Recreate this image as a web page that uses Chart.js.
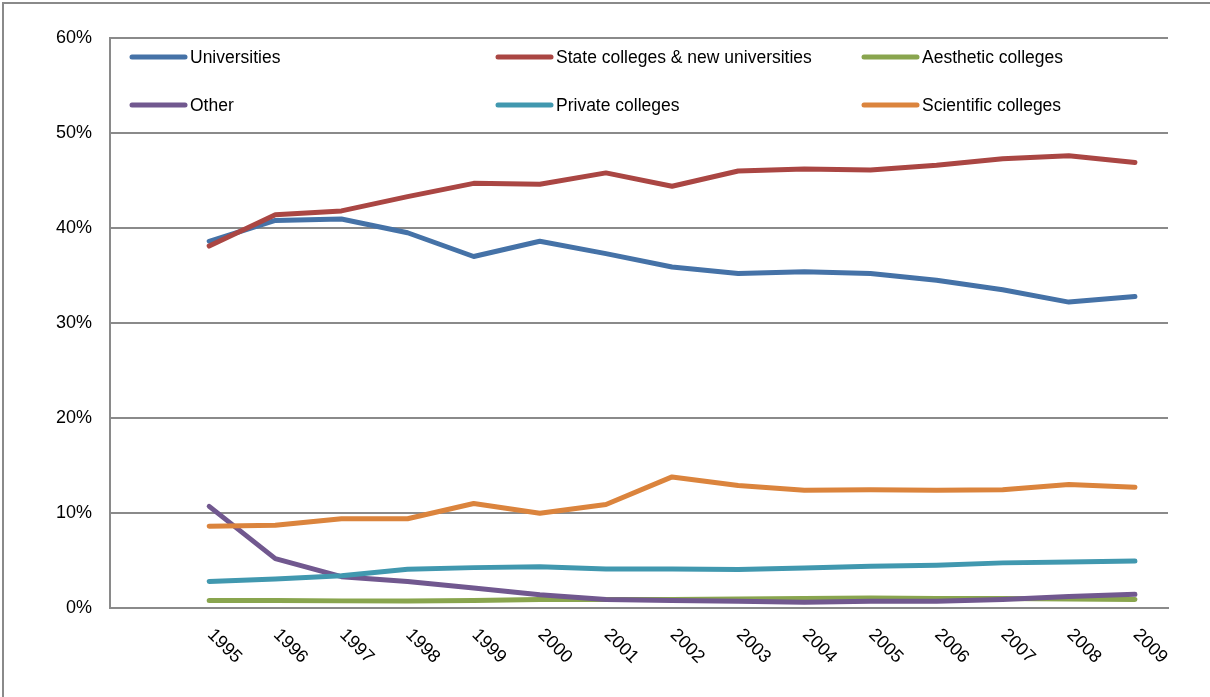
<!DOCTYPE html>
<html>
<head>
<meta charset="utf-8">
<script src="https://cdn.jsdelivr.net/npm/chart.js@4.4.1/dist/chart.umd.min.js"></script>
<style>
    html, body { margin: 0; padding: 0; background: #fff; }
    #wrap { position: relative; width: 1210px; height: 697px; }
</style>
</head>
<body>
<div id="wrap"><canvas id="chart"></canvas></div>
<script>
// Years on the x axis
const years = ['1995', '1996', '1997', '1998', '1999', '2000', '2001', '2002',
    '2003', '2004', '2005', '2006', '2007', '2008', '2009'];

// Shares in percent
const universities = [38.6, 40.8, 40.95, 39.5, 37.0, 38.6, 37.3, 35.9, 35.2, 35.4, 35.2, 34.5, 33.5, 32.2, 32.8];
const stateColleges = [38.1, 41.4, 41.8, 43.3, 44.7, 44.6, 45.8, 44.4, 46.0, 46.2, 46.1, 46.6, 47.3, 47.6, 46.9];
const aestheticColleges = [0.8, 0.8, 0.75, 0.75, 0.8, 0.9, 0.9, 0.9, 0.95, 1.0, 1.05, 1.0, 1.0, 0.95, 0.9];
const other = [10.7, 5.2, 3.3, 2.8, 2.1, 1.4, 0.9, 0.8, 0.7, 0.6, 0.7, 0.7, 0.9, 1.2, 1.45];
const privateColleges = [2.8, 3.05, 3.4, 4.07, 4.25, 4.35, 4.1, 4.1, 4.05, 4.2, 4.4, 4.5, 4.75, 4.85, 4.95];
const scientificColleges = [8.6, 8.7, 9.4, 9.4, 11.0, 9.97, 10.9, 13.8, 12.9, 12.4, 12.45, 12.4, 12.45, 13.0, 12.7];

// Y axis ticks
const yTicks = [0, 10, 20, 30, 40, 50, 60];

const seriesNames = ['Universities', 'State colleges & new universities', 'Aesthetic colleges',
    'Other', 'Private colleges', 'Scientific colleges'];
const seriesData = [universities, stateColleges, aestheticColleges, other, privateColleges, scientificColleges];
const seriesColors = ['#4572A7', '#AA4643', '#89A54E', '#71588F', '#4198AF', '#DB843D'];

const FONT = '"Liberation Sans", Arial, sans-serif';
const GRID = '#8a8a8a';

// an empty first slot leaves the blank gap left of 1995
const labels = [''].concat(years);

const datasets = seriesData.map((values, i) => ({
    label: seriesNames[i],
    data: [null].concat(values),
    borderColor: seriesColors[i],
    backgroundColor: seriesColors[i],
    borderWidth: 5,
    borderCapStyle: 'round',
    borderJoinStyle: 'round',
    pointRadius: 0,
    tension: 0,
    order: seriesData.length - i // later series on top
}));

// Outer frame, legend inside the plot, slanted year labels
const decorations = {
    id: 'decorations',
    beforeDraw(chart) {
        const ctx = chart.ctx;
        ctx.save();
        ctx.fillStyle = '#fff';
        ctx.fillRect(0, 0, chart.width, chart.height);
        ctx.strokeStyle = GRID;
        ctx.lineWidth = 2;
        ctx.beginPath();
        ctx.moveTo(3, chart.height);
        ctx.lineTo(3, 3);
        ctx.lineTo(chart.width, 3);
        ctx.stroke();
        ctx.restore();
    },
    afterDraw(chart) {
        const ctx = chart.ctx;
        const area = chart.chartArea;
        ctx.save();

        // legend: 3 columns x 2 rows
        ctx.font = '17.5px ' + FONT;
        ctx.textBaseline = 'middle';
        ctx.textAlign = 'left';
        ctx.lineCap = 'round';
        ctx.lineWidth = 5;
        chart.data.datasets.forEach((ds, i) => {
            const col = i % 3;
            const row = Math.floor(i / 3);
            const x = area.left + 22 + col * 366;
            const y = area.top + 19 + row * 48;
            ctx.strokeStyle = ds.borderColor;
            ctx.beginPath();
            ctx.moveTo(x, y);
            ctx.lineTo(x + 53, y);
            ctx.stroke();
            ctx.fillStyle = '#000';
            ctx.fillText(ds.label, x + 58, y + 1);
        });

        // year labels, turned 45 degrees clockwise
        const xScale = chart.scales.x;
        ctx.font = '18px ' + FONT;
        ctx.fillStyle = '#000';
        chart.data.labels.forEach((lab, i) => {
            if (!lab) return;
            const x = xScale.getPixelForValue(i);
            ctx.save();
            ctx.translate(x + 1, area.bottom + 24);
            ctx.rotate(Math.PI / 4);
            ctx.fillText(lab, 0, 0);
            ctx.restore();
        });
        ctx.restore();
    }
};

new Chart(document.getElementById('chart'), {
    type: 'line',
    data: { labels: labels, datasets: datasets },
    options: {
        responsive: true,
        maintainAspectRatio: false,
        animation: false,
        layout: { padding: { top: 38, right: 42, bottom: 89, left: 0 } },
        plugins: {
            legend: { display: false },
            tooltip: { enabled: false }
        },
        scales: {
            x: {
                offset: true,
                grid: { display: false, drawTicks: false },
                border: { display: true, color: GRID, width: 2 },
                ticks: { display: false },
                afterFit(scale) { scale.height = 0; }
            },
            y: {
                min: 0,
                max: 60,
                afterBuildTicks(scale) { scale.ticks = yTicks.map(v => ({ value: v })); },
                grid: { color: GRID, lineWidth: 2, drawTicks: false },
                border: { display: true, color: GRID, width: 2 },
                ticks: {
                    padding: 18,
                    color: '#000',
                    font: { family: FONT, size: 18 },
                    callback: v => v + '%'
                },
                afterFit(scale) { scale.width = 110; }
            }
        }
    },
    plugins: [decorations]
});
</script>
</body>
</html>
